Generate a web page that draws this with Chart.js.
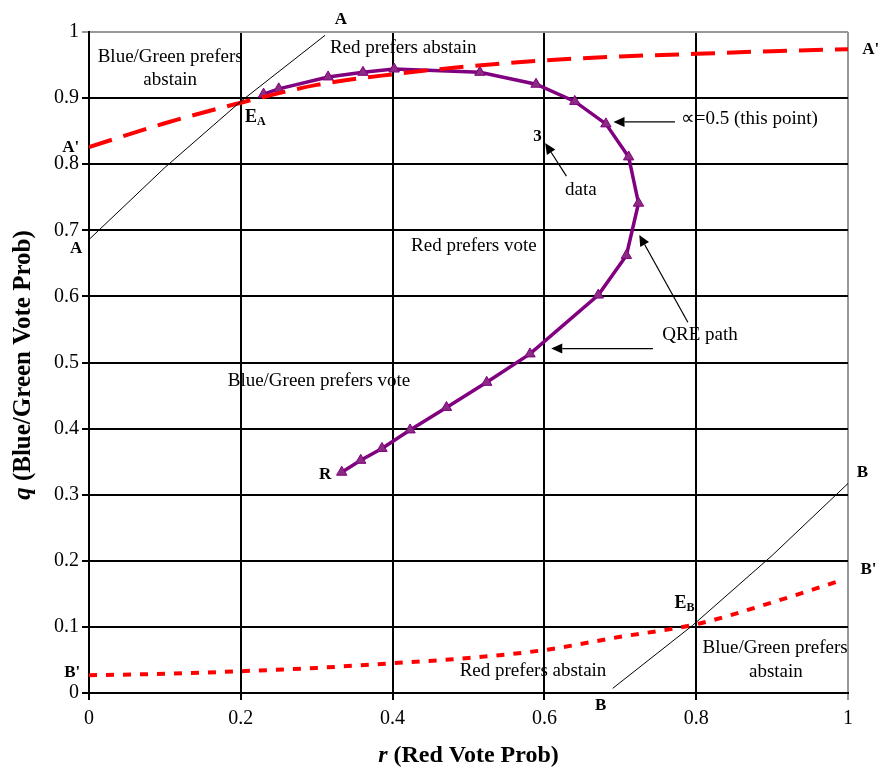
<body style="margin:0;background:#fff">
<canvas id="c" width="879" height="768"></canvas>
<script src="https://cdn.jsdelivr.net/npm/chart.js"></script>
<script>
// QRE path (r, q)
const qreR = [0.230, 0.250, 0.315, 0.361, 0.402, 0.515, 0.589, 0.640, 0.681, 0.711, 0.724, 0.708, 0.671, 0.581, 0.524, 0.471, 0.423, 0.386, 0.358, 0.333];
const qreQ = [0.906, 0.914, 0.932, 0.939, 0.944, 0.939, 0.921, 0.895, 0.861, 0.811, 0.741, 0.662, 0.602, 0.513, 0.470, 0.432, 0.398, 0.370, 0.352, 0.334];

// A' and B' best response curves
const aPrimeR = [0, 0.1, 0.2, 0.3, 0.4, 0.5, 0.6, 0.7, 0.8, 0.9, 1.0];
const aPrimeQ = [0.826, 0.862, 0.893, 0.920, 0.936, 0.948, 0.957, 0.963, 0.967, 0.971, 0.974];
const bPrimeR = [0, 0.1, 0.2, 0.3, 0.4, 0.5, 0.6, 0.7, 0.8, 0.9, 0.99];
const bPrimeQ = [0.027, 0.029, 0.033, 0.038, 0.045, 0.053, 0.065, 0.085, 0.104, 0.137, 0.170];

// A-A and B-B thin lines
const aLineR = [0, 0.1, 0.2, 0.311];
const aLineQ = [0.686, 0.795, 0.895, 0.995];
const bLineR = [0.69, 0.795, 0.9, 1.0];
const bLineQ = [0.007, 0.102, 0.208, 0.317];

const xTicks = [0, 0.2, 0.4, 0.6, 0.8, 1];

// annotations in data units: [text, r, q, style]
const labels = [
  ['A', 0.332, 1.018, 'b'], ['A', -0.017, 0.672, 'b'],
  ["A'", -0.024, 0.825, 'b'], ["A'", 1.030, 0.973, 'b'],
  ['Blue/Green prefers', 0.107, 0.962, 'n'], ['abstain', 0.107, 0.927, 'n'],
  ['Red prefers abstain', 0.414, 0.976, 'n'],
  ['\u221D=0.5 (this point)', 0.870, 0.868, 'n'],
  ['3', 0.591, 0.841, 'b'], ['data', 0.648, 0.761, 'n'],
  ['Red prefers vote', 0.507, 0.676, 'n'],
  ['QRE path', 0.805, 0.541, 'n'],
  ['Blue/Green prefers vote', 0.303, 0.472, 'n'],
  ['R', 0.311, 0.331, 'b'],
  ['B', 1.019, 0.333, 'b'], ['B', 0.674, -0.019, 'b'],
  ["B'", 1.027, 0.186, 'b'], ["B'", -0.022, 0.031, 'b'],
  ['Red prefers abstain', 0.585, 0.033, 'n'],
  ['Blue/Green prefers', 0.904, 0.068, 'n'], ['abstain', 0.905, 0.031, 'n'],
];
const subLabels = [['E', 'A', 0.216, 0.871], ['E', 'B', 0.782, 0.136]];
const arrows = [
  [0.772, 0.864, 0.691, 0.864],
  [0.629, 0.782, 0.601, 0.832],
  [0.789, 0.561, 0.725, 0.693],
  [0.743, 0.521, 0.609, 0.521],
];

const pts = (xs, ys) => xs.map((x, i) => ({ x, y: ys[i] }));
const serif = 'Liberation Serif';

const annotate = {
  id: 'annotate',
  afterDatasetsDraw(chart) {
    const { ctx, scales: { x, y } } = chart;
    ctx.save();
    ctx.fillStyle = '#000';
    ctx.textAlign = 'center';
    ctx.textBaseline = 'middle';
    for (const [t, r, q, s] of labels) {
      ctx.font = s === 'b' ? `bold 17px ${serif}` : `19px ${serif}`;
      ctx.fillText(t, x.getPixelForValue(r), y.getPixelForValue(q));
    }
    for (const [a, b, r, q] of subLabels) {
      const px = x.getPixelForValue(r), py = y.getPixelForValue(q);
      ctx.font = `bold 18px ${serif}`;
      ctx.textAlign = 'right';
      ctx.fillText(a, px + 4, py);
      ctx.font = `bold 12px ${serif}`;
      ctx.textAlign = 'left';
      ctx.fillText(b, px + 4, py + 5);
    }
    ctx.strokeStyle = '#000';
    ctx.lineWidth = 1.2;
    for (const [r0, q0, r1, q1] of arrows) {
      const x0 = x.getPixelForValue(r0), y0 = y.getPixelForValue(q0);
      const x1 = x.getPixelForValue(r1), y1 = y.getPixelForValue(q1);
      const ang = Math.atan2(y1 - y0, x1 - x0);
      const hl = 11, hw = 5;
      ctx.beginPath();
      ctx.moveTo(x0, y0);
      ctx.lineTo(x1 - hl * Math.cos(ang), y1 - hl * Math.sin(ang));
      ctx.stroke();
      ctx.beginPath();
      ctx.moveTo(x1, y1);
      ctx.lineTo(x1 - hl * Math.cos(ang) - hw * Math.sin(ang), y1 - hl * Math.sin(ang) + hw * Math.cos(ang));
      ctx.lineTo(x1 - hl * Math.cos(ang) + hw * Math.sin(ang), y1 - hl * Math.sin(ang) - hw * Math.cos(ang));
      ctx.closePath();
      ctx.fill();
    }
    // axis titles
    ctx.textAlign = 'left';
    const xt = [['r', `italic bold 24px ${serif}`], [' (Red Vote Prob)', `bold 24px ${serif}`]];
    const yt = [['q', `italic bold 25px ${serif}`], [' (Blue/Green Vote Prob)', `bold 25px ${serif}`]];
    const widthOf = parts => parts.reduce((w, [t, f]) => (ctx.font = f, w + ctx.measureText(t).width), 0);
    let cx = (x.left + x.right) / 2 - widthOf(xt) / 2;
    for (const [t, f] of xt) { ctx.font = f; ctx.fillText(t, cx, 756); cx += ctx.measureText(t).width; }
    ctx.translate(24, 365);
    ctx.rotate(-Math.PI / 2);
    cx = -widthOf(yt) / 2;
    for (const [t, f] of yt) { ctx.font = f; ctx.fillText(t, cx, 0); cx += ctx.measureText(t).width; }
    ctx.restore();
  }
};

new Chart(document.getElementById('c'), {
  type: 'scatter',
  data: {
    datasets: [
      { data: pts(aLineR, aLineQ), showLine: true, borderColor: '#000', borderWidth: 1, pointRadius: 0 },
      { data: pts(bLineR, bLineQ), showLine: true, borderColor: '#000', borderWidth: 1, pointRadius: 0 },
      { data: pts(aPrimeR, aPrimeQ), showLine: true, borderColor: '#ff0000', borderWidth: 4, borderDash: [24, 12], pointRadius: 0, cubicInterpolationMode: 'monotone' },
      { data: pts(bPrimeR, bPrimeQ), showLine: true, borderColor: '#ff0000', borderWidth: 4, borderDash: [8, 9], pointRadius: 0, cubicInterpolationMode: 'monotone' },
      { data: pts(qreR, qreQ), showLine: true, borderColor: '#800080', borderWidth: 3.5, pointStyle: 'triangle', pointRadius: 6, pointBackgroundColor: '#8b2b82', pointBorderColor: '#800080', pointBorderWidth: 1 },
    ]
  },
  options: {
    responsive: false,
    animation: false,
    devicePixelRatio: 1,
    layout: { padding: { left: 0, right: 31, top: 32, bottom: 0 } },
    plugins: { legend: { display: false }, tooltip: { enabled: false } },
    scales: {
      x: {
        type: 'linear', min: 0, max: 1,
        afterFit: s => { s.height = 75; },
        afterBuildTicks: s => { s.ticks = xTicks.map(value => ({ value })); },
        ticks: { color: '#000', font: { family: serif, size: 20 }, padding: 7, callback: v => String(Math.round(v * 10) / 10) },
        grid: { color: c => c.tick && c.tick.value === 1 ? '#999' : '#000', lineWidth: 2, tickLength: 7 },
        border: { color: '#000', width: 2 }
      },
      y: {
        type: 'linear', min: 0, max: 1,
        afterFit: s => { s.width = 89; },
        ticks: { stepSize: 0.1, color: '#000', font: { family: serif, size: 20 }, padding: 3, callback: v => String(Math.round(v * 10) / 10) },
        grid: { color: c => c.tick && c.tick.value === 1 ? '#999' : '#000', lineWidth: 2, tickLength: 7 },
        border: { color: '#000', width: 2 }
      }
    }
  },
  plugins: [annotate]
});
</script>
</body>
